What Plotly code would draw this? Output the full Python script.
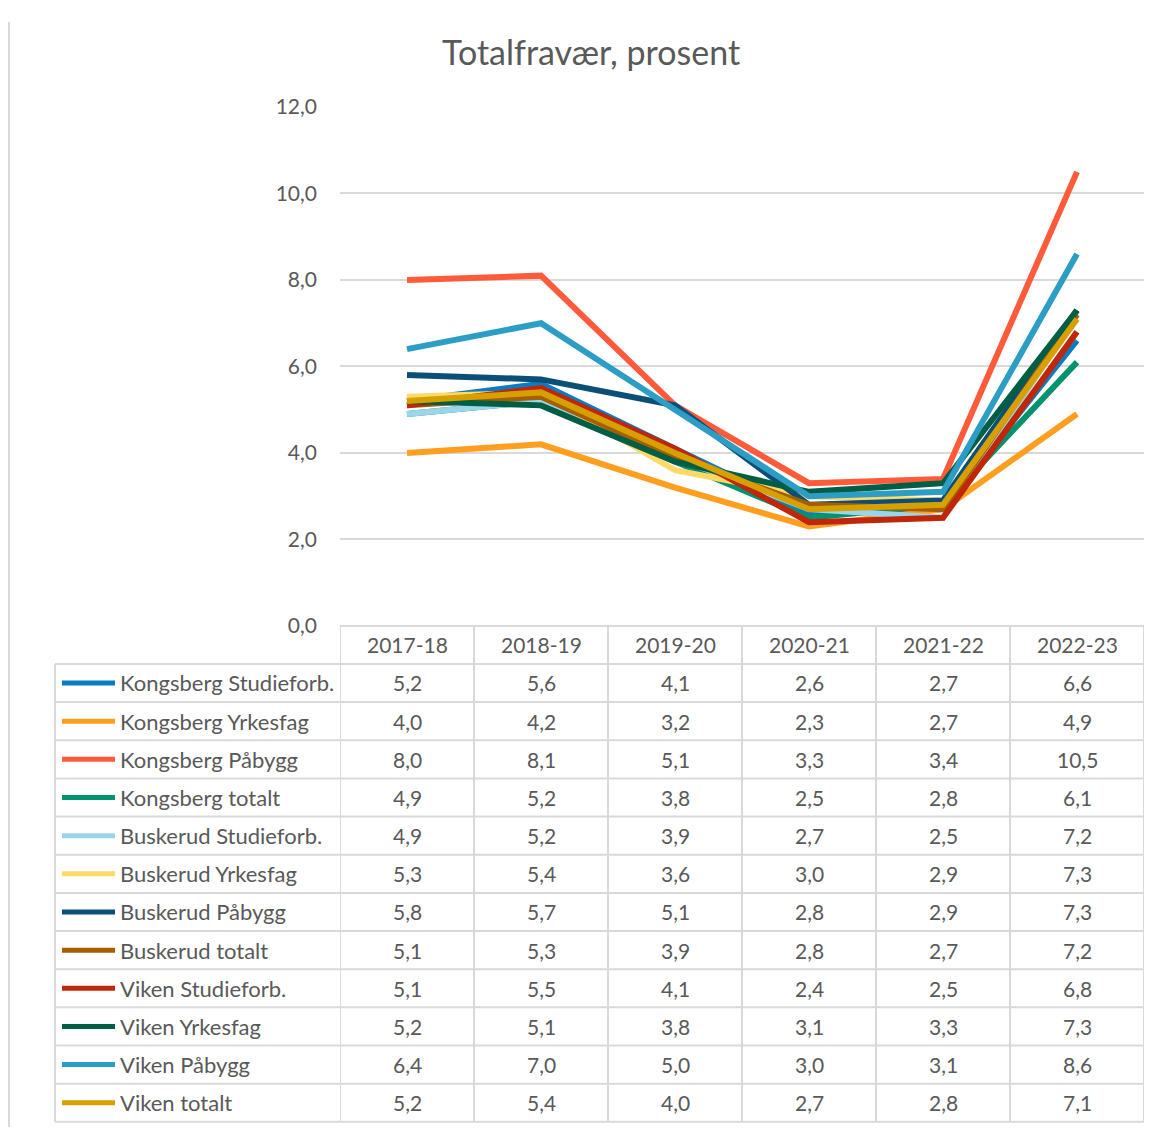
import plotly.graph_objects as go

# figure size / placement: the page shows the figure offset by the body margin
W, H = 1153, 1130
OX = 8          # horizontal page offset of the figure
OY = 22.5       # vertical page offset of the figure
SY = 0.978      # vertical screenshot scale

categories = ["2017-18", "2018-19", "2019-20", "2020-21", "2021-22", "2022-23"]
series_names = [
    "Kongsberg Studieforb.", "Kongsberg Yrkesfag", "Kongsberg Påbygg", "Kongsberg totalt",
    "Buskerud Studieforb.", "Buskerud Yrkesfag", "Buskerud Påbygg", "Buskerud totalt",
    "Viken Studieforb.", "Viken Yrkesfag", "Viken Påbygg", "Viken totalt",
]
kongsberg_studieforb = [5.2, 5.6, 4.1, 2.6, 2.7, 6.6]
kongsberg_yrkesfag = [4.0, 4.2, 3.2, 2.3, 2.7, 4.9]
kongsberg_pabygg = [8.0, 8.1, 5.1, 3.3, 3.4, 10.5]
kongsberg_totalt = [4.9, 5.2, 3.8, 2.5, 2.8, 6.1]
buskerud_studieforb = [4.9, 5.2, 3.9, 2.7, 2.5, 7.2]
buskerud_yrkesfag = [5.3, 5.4, 3.6, 3.0, 2.9, 7.3]
buskerud_pabygg = [5.8, 5.7, 5.1, 2.8, 2.9, 7.3]
buskerud_totalt = [5.1, 5.3, 3.9, 2.8, 2.7, 7.2]
viken_studieforb = [5.1, 5.5, 4.1, 2.4, 2.5, 6.8]
viken_yrkesfag = [5.2, 5.1, 3.8, 3.1, 3.3, 7.3]
viken_pabygg = [6.4, 7.0, 5.0, 3.0, 3.1, 8.6]
viken_totalt = [5.2, 5.4, 4.0, 2.7, 2.8, 7.1]

series_values = [
    kongsberg_studieforb, kongsberg_yrkesfag, kongsberg_pabygg, kongsberg_totalt,
    buskerud_studieforb, buskerud_yrkesfag, buskerud_pabygg, buskerud_totalt,
    viken_studieforb, viken_yrkesfag, viken_pabygg, viken_totalt,
]
colors = [
    "#0A7CC1", "#FF9E1F", "#FF5B3A", "#00936E",
    "#9AD5EA", "#FFD966", "#0B4F79", "#A55E00",
    "#C0260A", "#005E47", "#2C9EC6", "#D6A000",
]

title_text = "Totalfravær, prosent"
y_ticks = [0, 2, 4, 6, 8, 10, 12]

FONT = "Lato"
TXT = "#595959"
GRID = "#D9D9D9"
FS = 21
FS_NAME = 22

# layout geometry (target screen pixels)
PX_L, PX_R = 340, 1144
PY_TOP, PY_ZERO = 107, 626
TABLE_L = 55
ROW0 = 664
TABLE_B = 1122
ROW_H = (TABLE_B - ROW0) / 12


def px(x):
    return (x - OX) / W


def py(y):
    return 1 - (y / SY - OY) / H


fig = go.Figure()
for name, vals, col in zip(series_names, series_values, colors):
    fig.add_trace(go.Scatter(
        x=categories, y=vals, mode="lines", name=name,
        line=dict(color=col, width=6), showlegend=False,
    ))

shapes = []
annotations = []

# chart border (left edge)
shapes.append(dict(type="line", xref="paper", yref="paper", x0=px(9), x1=px(9), y0=1, y1=0,
                   line=dict(color=GRID, width=2)))

# table lines - horizontal
shapes.append(dict(type="line", xref="paper", yref="paper", x0=px(PX_L), x1=px(PX_R),
                   y0=py(PY_ZERO), y1=py(PY_ZERO), line=dict(color=GRID, width=2)))
for k in range(13):
    yy = ROW0 + k * ROW_H
    shapes.append(dict(type="line", xref="paper", yref="paper", x0=px(TABLE_L), x1=px(PX_R),
                       y0=py(yy), y1=py(yy), line=dict(color=GRID, width=2)))
# vertical
shapes.append(dict(type="line", xref="paper", yref="paper", x0=px(TABLE_L), x1=px(TABLE_L),
                   y0=py(ROW0), y1=py(TABLE_B), line=dict(color=GRID, width=2)))
for k in range(len(categories) + 1):
    shapes.append(dict(type="line", xref="x", yref="paper", x0=k - 0.5, x1=k - 0.5,
                       y0=py(PY_ZERO), y1=py(TABLE_B), line=dict(color=GRID, width=2)))

# header text
for i, c in enumerate(categories):
    annotations.append(dict(x=i, y=py(645), xref="x", yref="paper", text=c, showarrow=False,
                            font=dict(family=FONT, size=FS, color=TXT), xanchor="center", yanchor="middle"))

# rows
for r, (name, vals, col) in enumerate(zip(series_names, series_values, colors)):
    yc = ROW0 + (r + 0.5) * ROW_H
    shapes.append(dict(type="line", xref="paper", yref="paper", x0=px(62), x1=px(115),
                       y0=py(yc), y1=py(yc), line=dict(color=col, width=5)))
    annotations.append(dict(x=px(118), y=py(yc), xref="paper", yref="paper", text=name, showarrow=False,
                            font=dict(family=FONT, size=FS_NAME, color=TXT), xanchor="left", yanchor="middle"))
    for i, v in enumerate(vals):
        annotations.append(dict(x=i, y=py(yc), xref="x", yref="paper",
                                text=f"{v:.1f}".replace(".", ","), showarrow=False,
                                font=dict(family=FONT, size=FS, color=TXT), xanchor="center", yanchor="middle"))

# title
annotations.append(dict(x=px(591), y=py(52), xref="paper", yref="paper", text=title_text, showarrow=False,
                        font=dict(family=FONT, size=34, color=TXT), xanchor="center", yanchor="middle"))

fig.update_layout(
    width=W, height=H,
    margin=dict(l=0, r=0, t=0, b=0),
    paper_bgcolor="white", plot_bgcolor="white",
    separators=",.",
    shapes=shapes, annotations=annotations,
    xaxis=dict(domain=[px(PX_L), px(PX_R)], type="category", range=[-0.5, 5.5],
               showticklabels=False, showgrid=False, zeroline=False, showline=False, ticks=""),
    yaxis=dict(domain=[py(PY_ZERO), py(PY_TOP)], range=[0, 12], tickvals=y_ticks, tickformat=".1f",
               showgrid=True, gridcolor=GRID, gridwidth=1.5, zeroline=False, showline=False,
               ticks="", ticklabelstandoff=22,
               tickfont=dict(family=FONT, size=FS, color=TXT)),
)

fig.write_html("out.html")
